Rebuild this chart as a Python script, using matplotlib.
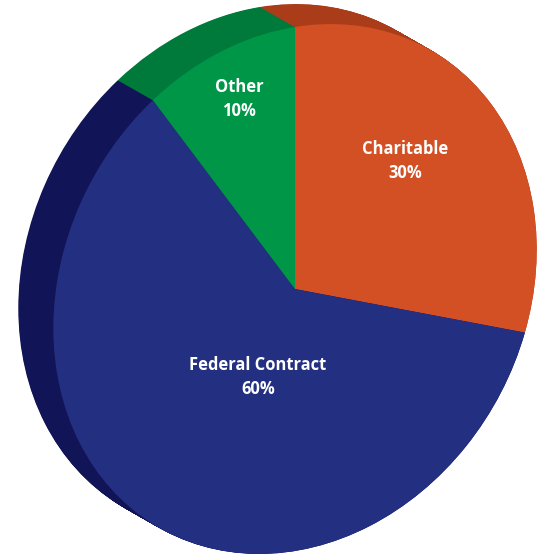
"""Funding sources shown as a tilted, extruded pie."""

import matplotlib
matplotlib.use("Agg")
import matplotlib.pyplot as plt
from matplotlib.transforms import Affine2D

# Data
LABELS = ["Charitable", "Federal Contract", "Other"]
SHARES = [30, 60, 10]
FACE_COLORS = ["#D35024", "#232F80", "#009648"]
SIDE_COLORS = ["#AA3C19", "#121458", "#007A3B"]

# Label anchor points (pixels) for each slice
LABEL_POS = [(405, 161), (258, 377), (239, 99)]

# Geometry of the tilted disk in pixel space
CX, CY = 295, 289
SHEAR = [[241.7, 0.0], [-39.3, -262.0]]
DEPTH = (-35, -20)
LAYERS = 60


def disk_transform(ax, dx=0.0, dy=0.0):
    """Map the unit pie onto the tilted ellipse, shifted by (dx, dy)."""
    (a, b), (c, d) = SHEAR
    tilt = Affine2D.from_values(a, c, b, d, CX + dx, CY + dy)
    return tilt + ax.transData


def draw_pie(ax, colors, trans):
    wedges, _ = ax.pie(SHARES, colors=colors, startangle=90, counterclock=False,
                       wedgeprops=dict(linewidth=0, antialiased=True))
    for w in wedges:
        w.set_transform(trans)
    return wedges


fig = plt.figure(figsize=(5.49, 5.54), dpi=100)
ax = fig.add_axes([0, 0, 1, 1])

# Side walls: stack copies from the back towards the face
for i in range(LAYERS + 1):
    t = 1 - i / LAYERS
    draw_pie(ax, SIDE_COLORS, disk_transform(ax, DEPTH[0] * t, DEPTH[1] * t))

# Face
draw_pie(ax, FACE_COLORS, disk_transform(ax))

for label, share, (x, y) in zip(LABELS, SHARES, LABEL_POS):
    ax.text(x, y, f"{label}\n{share}%", ha="center", va="center", color="white",
            fontsize=11.9, fontweight="bold", family="Open Sans", linespacing=1.4)

ax.set_aspect("auto")
ax.set_xlim(0, 549)
ax.set_ylim(554, 0)
ax.axis("off")

fig.savefig("out.png", dpi=100, facecolor="white")
